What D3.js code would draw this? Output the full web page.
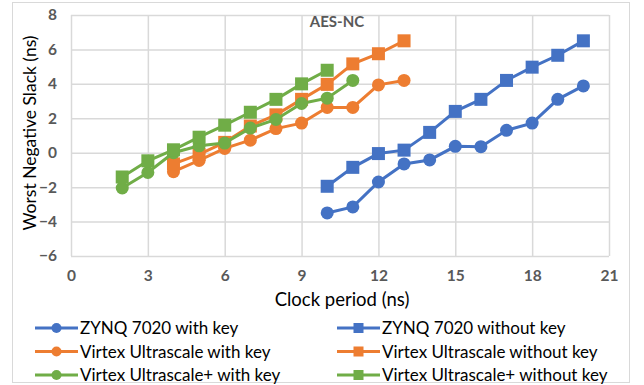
<!DOCTYPE html>
<html>
<head>
<meta charset="utf-8">
<script src="https://cdn.jsdelivr.net/npm/d3@7"></script>
<style>
  body { margin: 0; background: #fff; }
  text { font-family: Lato, "Open Sans", sans-serif; }
</style>
</head>
<body>
<div id="chart"></div>
<script>
// data
const xTicks = [0, 3, 6, 9, 12, 15, 18, 21];
const yTicks = [-6, -4, -2, 0, 2, 4, 6, 8];

const zynqX = [10, 11, 12, 13, 14, 15, 16, 17, 18, 19, 20];
const zynqWithKey = [-3.5, -3.15, -1.7, -0.65, -0.42, 0.37, 0.35, 1.3, 1.72, 3.1, 3.88];
const zynqWithoutKey = [-1.95, -0.85, -0.05, 0.15, 1.18, 2.4, 3.1, 4.2, 4.97, 5.66, 6.5];

const usX = [4, 5, 6, 7, 8, 9, 10, 11, 12, 13];
const usWithKey = [-1.1, -0.45, 0.25, 0.73, 1.4, 1.72, 2.63, 2.63, 3.94, 4.2];
const usWithoutKey = [-0.65, -0.1, 0.6, 1.55, 2.2, 3.1, 3.97, 5.16, 5.75, 6.5];

const uspKeyX = [2, 3, 4, 5, 6, 7, 8, 9, 10, 11];
const uspWithKey = [-2.05, -1.15, 0.0, 0.4, 0.56, 1.43, 1.93, 2.86, 3.17, 4.2];
const uspNoKeyX = [2, 3, 4, 5, 6, 7, 8, 9, 10];
const uspWithoutKey = [-1.41, -0.47, 0.17, 0.9, 1.6, 2.35, 3.1, 4.0, 4.79];

const series = [
  { name: "ZYNQ 7020 with key", xs: zynqX, ys: zynqWithKey, color: "#4472C4", shape: "circle" },
  { name: "ZYNQ 7020 without key", xs: zynqX, ys: zynqWithoutKey, color: "#4472C4", shape: "square" },
  { name: "Virtex Ultrascale with key", xs: usX, ys: usWithKey, color: "#ED7D31", shape: "circle" },
  { name: "Virtex Ultrascale without key", xs: usX, ys: usWithoutKey, color: "#ED7D31", shape: "square" },
  { name: "Virtex Ultrascale+ with key", xs: uspKeyX, ys: uspWithKey, color: "#70AD47", shape: "circle" },
  { name: "Virtex Ultrascale+ without key", xs: uspNoKeyX, ys: uspWithoutKey, color: "#70AD47", shape: "square" }
];

const W = 644, H = 385;
const margin = { top: 15, right: 35, bottom: 129, left: 71 },
  width = W - margin.left - margin.right,
  height = H - margin.top - margin.bottom;

const root = d3.select("#chart").append("svg")
  .attr("width", W).attr("height", H);

// outer chart border
root.append("rect")
  .attr("x", 12.5).attr("y", 2.5)
  .attr("width", 617).attr("height", 380)
  .attr("fill", "#fff").attr("stroke", "#d9d9d9");

const svg = root.append("g")
  .attr("transform", `translate(${margin.left},${margin.top})`);

const x = d3.scaleLinear().domain([0, 21]).range([0, width]);
const y = d3.scaleLinear().domain([-6, 8]).range([height, 0]);

// gridlines
svg.append("g")
  .call(d3.axisLeft(y).tickValues(yTicks).tickSize(-width).tickFormat(""))
  .call(g => g.select(".domain").remove())
  .selectAll("line").attr("stroke", "#d9d9d9").attr("stroke-width", 1.5);
svg.append("g")
  .attr("transform", `translate(0,${height})`)
  .call(d3.axisBottom(x).tickValues(xTicks).tickSize(-height).tickFormat(""))
  .call(g => g.select(".domain").remove())
  .selectAll("line").attr("stroke", "#d9d9d9").attr("stroke-width", 1.5);

// tick labels
svg.append("g")
  .call(d3.axisLeft(y).tickValues(yTicks).tickSize(0).tickPadding(14))
  .call(g => g.select(".domain").remove())
  .selectAll("text")
  .attr("fill", "#595959").attr("font-size", 15.5).attr("font-weight", "bold");
svg.append("g")
  .attr("transform", `translate(0,${height})`)
  .call(d3.axisBottom(x).tickValues(xTicks).tickSize(0).tickPadding(14))
  .call(g => g.select(".domain").remove())
  .selectAll("text")
  .attr("fill", "#595959").attr("font-size", 15.5).attr("font-weight", "bold");

// axis titles
root.append("text")
  .attr("transform", "translate(36,133) rotate(-90)")
  .attr("text-anchor", "middle")
  .attr("font-size", 17.5)
  .attr("fill", "#000")
  .text("Worst Negative Slack (ns)");
root.append("text")
  .attr("x", 342).attr("y", 306)
  .attr("text-anchor", "middle")
  .attr("font-size", 18.5)
  .attr("fill", "#000")
  .text("Clock period (ns)");

// chart title
root.append("text")
  .attr("x", 337).attr("y", 27)
  .attr("text-anchor", "middle")
  .attr("font-size", 15)
  .attr("font-weight", "bold")
  .attr("fill", "#595959")
  .text("AES-NC");

const line = d3.line().x(d => x(d[0])).y(d => y(d[1]));

function drawMarker(g, shape, color, cx, cy) {
  if (shape === "circle") {
    g.append("circle").attr("cx", cx).attr("cy", cy).attr("r", 6.5).attr("fill", color);
  } else {
    g.append("rect").attr("x", cx - 6.5).attr("y", cy - 6.5)
      .attr("width", 13).attr("height", 13).attr("fill", color);
  }
}

// series
series.forEach(s => {
  const pts = s.xs.map((v, i) => [v, s.ys[i]]);
  const g = svg.append("g");
  g.append("path")
    .datum(pts)
    .attr("fill", "none")
    .attr("stroke", s.color)
    .attr("stroke-width", 3)
    .attr("d", line);
  pts.forEach(p => drawMarker(g, s.shape, s.color, x(p[0]), y(p[1])));
});

// legend
const legend = root.append("g");
series.forEach((s, i) => {
  const col = i % 2, row = Math.floor(i / 2);
  const lx = col === 0 ? 35 : 337;
  const ly = 328 + row * 23.5;
  const g = legend.append("g");
  g.append("line")
    .attr("x1", lx).attr("x2", lx + 43)
    .attr("y1", ly).attr("y2", ly)
    .attr("stroke", s.color).attr("stroke-width", 3);
  if (s.shape === "circle") {
    g.append("circle").attr("cx", lx + 21.5).attr("cy", ly).attr("r", 5).attr("fill", s.color);
  } else {
    g.append("rect").attr("x", lx + 16.5).attr("y", ly - 5)
      .attr("width", 10).attr("height", 10).attr("fill", s.color);
  }
  g.append("text")
    .attr("x", lx + 45).attr("y", ly + 6)
    .attr("font-size", 17)
    .attr("fill", "#000")
    .text(s.name);
});
</script>
</body>
</html>
